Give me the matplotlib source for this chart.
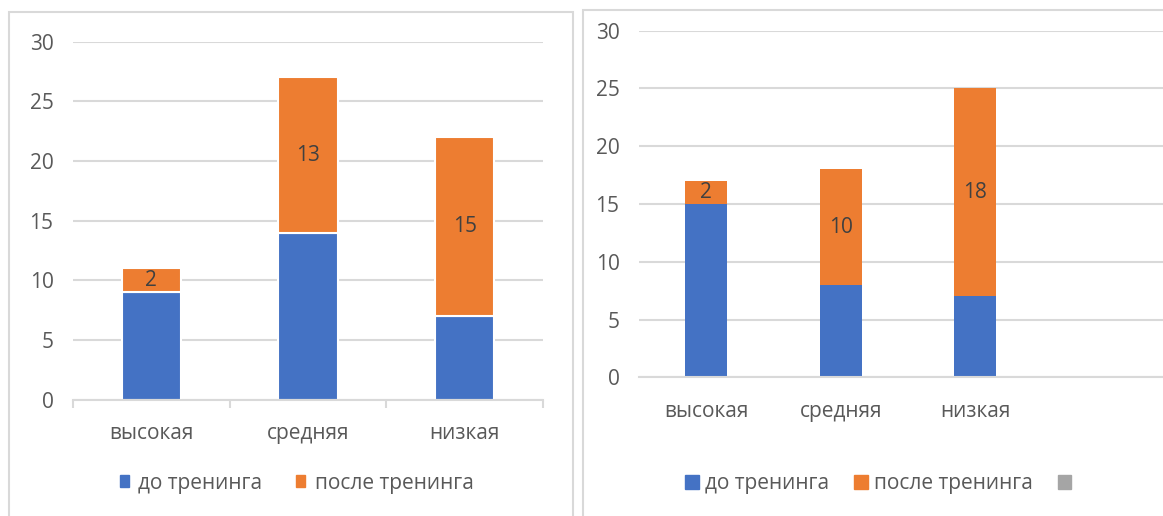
import matplotlib
matplotlib.use("Agg")
import matplotlib.pyplot as plt
from matplotlib.patches import Patch, Rectangle
import numpy as np

plt.rcParams['font.family'] = ['Open Sans', 'DejaVu Sans']

# ---- data ----
categories_left = ["высокая", "средняя", "низкая"]
before_left = [9, 14, 7]
after_left = [2, 13, 15]

categories_right = ["высокая", "средняя", "низкая", ""]
before_right = [15, 8, 7, 0]
after_right = [2, 10, 18, 0]
third_right = [0, 0, 0, 0]

series_names = ["до тренинга", "после тренинга", ""]
yticks = [0, 5, 10, 15, 20, 25, 30]

BLUE = "#4472C4"
ORANGE = "#ED7D31"
GRAY = "#A5A5A5"
TXT = "#595959"
GRID = "#D9D9D9"

W, H = 1163, 516
fig = plt.figure(figsize=(W / 100, H / 100), dpi=100)
fig.patch.set_facecolor("white")

def px(x0, y0, x1, y1):
    # pixel box (top-left origin) -> figure fraction rect
    return [x0 / W, (H - y1) / H, (x1 - x0) / W, (y1 - y0) / H]

# panel borders
fig.add_artist(Rectangle((9 / W, -0.1), (573 - 9) / W, (H - 12) / H + 0.1,
                         transform=fig.transFigure, fill=False, edgecolor=GRID, lw=1.5))
fig.add_artist(Rectangle((583 / W, -0.1), 0.6, (H - 10) / H + 0.1,
                         transform=fig.transFigure, fill=False, edgecolor=GRID, lw=1.5))

def style_axes(ax):
    ax.set_ylim(0, 30)
    ax.set_yticks(yticks)
    ax.grid(axis="y", color=GRID, lw=1.5)
    ax.set_axisbelow(True)
    for s in ["top", "right", "left"]:
        ax.spines[s].set_visible(False)
    ax.spines["bottom"].set_color(GRID)
    ax.spines["bottom"].set_linewidth(1.5)
    ax.tick_params(axis="y", length=0, labelsize=15, labelcolor=TXT, pad=14)
    ax.tick_params(axis="x", which="major", length=0, labelsize=15, labelcolor=TXT, pad=17)
    ax.set_facecolor("none")

# ---- left chart ----
axL = fig.add_axes(px(73, 41.7, 543, 399.5))
xL = np.arange(len(categories_left))
axL.bar(xL, before_left, width=0.38, color=BLUE, edgecolor="white", lw=1.5)
axL.bar(xL, after_left, bottom=before_left, width=0.38, color=ORANGE, edgecolor="white", lw=1.5)
for xi, b, a in zip(xL, before_left, after_left):
    axL.text(xi, b + a / 2, str(a), ha="center", va="center", fontsize=15, color="#404040")
axL.set_xlim(-0.5, len(categories_left) - 0.5)
style_axes(axL)
axL.set_xticks(xL)
axL.set_xticklabels(categories_left)
axL.set_xticks(np.arange(len(categories_left) + 1) - 0.5, minor=True)
axL.tick_params(axis="x", which="minor", length=6, color=GRID, width=1.5)
axL.legend(handles=[Patch(color=BLUE, label=series_names[0]),
                    Patch(color=ORANGE, label=series_names[1])],
           loc="center", bbox_to_anchor=(296.5 / W, (H - 483) / H),
           bbox_transform=fig.transFigure, ncol=2, frameon=False,
           fontsize=15, labelcolor=TXT, handlelength=0.45, handleheight=0.45,
           handletextpad=0.45, columnspacing=1.6)

# ---- right chart ----
axR = fig.add_axes(px(639, 30.7, 1177, 377.3))
xR = np.arange(len(categories_right))
axR.bar(xR, before_right, width=0.31, color=BLUE, lw=0)
axR.bar(xR, after_right, bottom=before_right, width=0.31, color=ORANGE, lw=0)
axR.bar(xR, third_right, bottom=np.add(before_right, after_right), width=0.31, color=GRAY, lw=0)
for xi, b, a in zip(xR, before_right, after_right):
    if a:
        axR.text(xi, b + a / 2, str(a), ha="center", va="center", fontsize=15, color="#404040")
axR.set_xlim(-0.5, len(categories_right) - 0.5)
style_axes(axR)
axR.tick_params(axis="x", pad=17)
axR.set_xticks(xR)
axR.set_xticklabels(categories_right)
axR.legend(handles=[Patch(color=BLUE, label=series_names[0]),
                    Patch(color=ORANGE, label=series_names[1]),
                    Patch(color=GRAY, label=series_names[2])],
           loc="center", bbox_to_anchor=(881.5 / W, (H - 484) / H),
           bbox_transform=fig.transFigure, ncol=3, frameon=False,
           fontsize=15, labelcolor=TXT, handlelength=0.65, handleheight=0.65,
           handletextpad=0.3, columnspacing=1.2)

fig.savefig("out.png", dpi=100)
